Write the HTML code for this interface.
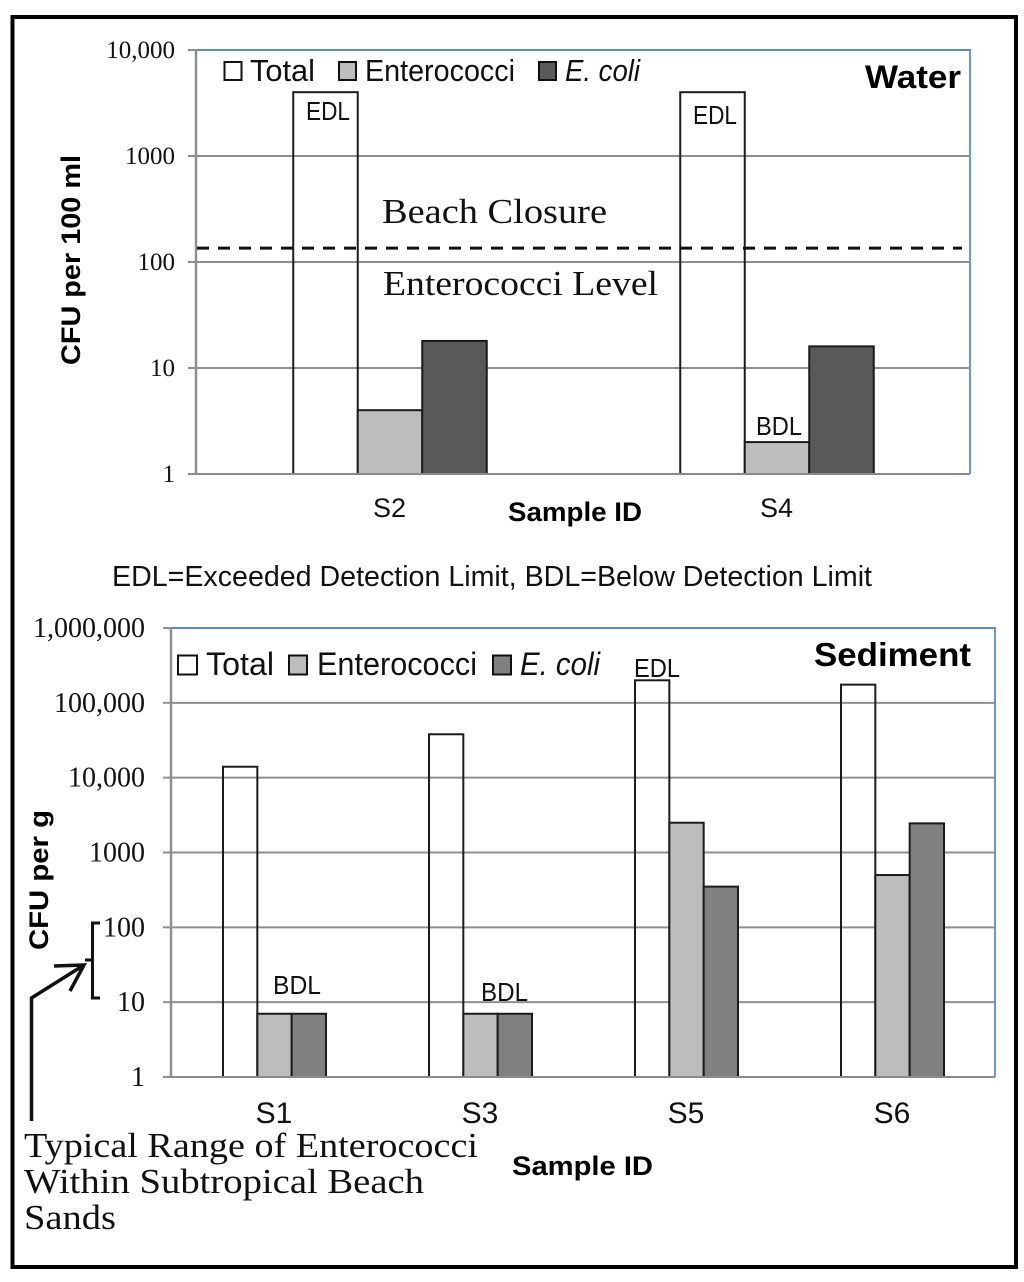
<!DOCTYPE html>
<html>
<head>
<meta charset="utf-8">
<title>CFU in water and sediment</title>
<style>
html,body{margin:0;padding:0;background:#fff;}
svg{display:block;}
.sans{font-family:"Liberation Sans",sans-serif;fill:#111;}
.serif{font-family:"Liberation Serif",serif;fill:#111;}
.bold{font-weight:bold;fill:#000;}
</style>
</head>
<body>
<svg id="figure" width="1024" height="1282" viewBox="0 0 1024 1282" xmlns="http://www.w3.org/2000/svg">
  <rect x="12.5" y="17" width="1003.5" height="1250" fill="#fff" stroke="#000" stroke-width="4"/>

  <g id="water-chart"></g>
  <g id="sediment-chart"></g>

  <!-- Water chart text -->
  <text class="sans bold" transform="translate(80,365) rotate(-90)" font-size="27" textLength="210" lengthAdjust="spacingAndGlyphs">CFU per 100 ml</text>
  <text class="sans bold" x="865" y="88" font-size="32" textLength="96" lengthAdjust="spacingAndGlyphs">Water</text>
  <text class="sans bold" x="508" y="521" font-size="27" textLength="134" lengthAdjust="spacingAndGlyphs">Sample ID</text>
  <text class="serif" x="382" y="223" font-size="35" textLength="225" lengthAdjust="spacingAndGlyphs">Beach Closure</text>
  <text class="serif" x="383" y="295" font-size="35" textLength="275" lengthAdjust="spacingAndGlyphs">Enterococci Level</text>
  <text class="sans" x="306" y="120" font-size="26" textLength="44" lengthAdjust="spacingAndGlyphs">EDL</text>
  <text class="sans" x="693" y="124" font-size="26" textLength="44" lengthAdjust="spacingAndGlyphs">EDL</text>
  <text class="sans" x="756" y="435" font-size="26" textLength="46" lengthAdjust="spacingAndGlyphs">BDL</text>

  <!-- Water legend -->
  <rect x="224.5" y="62" width="17" height="18" fill="#fff" stroke="#111" stroke-width="2"/>
  <text class="sans" x="250" y="81" font-size="31" textLength="65" lengthAdjust="spacingAndGlyphs">Total</text>
  <rect x="339" y="62" width="17" height="18" fill="#bdbdbd" stroke="#111" stroke-width="2"/>
  <text class="sans" x="365" y="81" font-size="31" textLength="150" lengthAdjust="spacingAndGlyphs">Enterococci</text>
  <rect x="539" y="62" width="17" height="18" fill="#595959" stroke="#111" stroke-width="2"/>
  <text class="sans" x="565" y="81" font-size="31" font-style="italic" textLength="75" lengthAdjust="spacingAndGlyphs">E. coli</text>

  <text class="sans" x="112" y="586" font-size="29" textLength="760" lengthAdjust="spacingAndGlyphs">EDL=Exceeded Detection Limit, BDL=Below Detection Limit</text>

  <!-- Sediment chart text -->
  <text class="sans bold" transform="translate(48,950) rotate(-90)" font-size="27" textLength="140" lengthAdjust="spacingAndGlyphs">CFU per g</text>
  <text class="sans bold" x="814" y="666" font-size="33" textLength="157" lengthAdjust="spacingAndGlyphs">Sediment</text>
  <text class="sans bold" x="512" y="1175" font-size="27" textLength="141" lengthAdjust="spacingAndGlyphs">Sample ID</text>
  <text class="sans" x="634" y="677" font-size="26" textLength="46" lengthAdjust="spacingAndGlyphs">EDL</text>
  <text class="sans" x="273" y="994" font-size="26" textLength="48" lengthAdjust="spacingAndGlyphs">BDL</text>
  <text class="sans" x="481" y="1001" font-size="26" textLength="47" lengthAdjust="spacingAndGlyphs">BDL</text>

  <!-- Sediment legend -->
  <rect x="178" y="655.5" width="19" height="19" fill="#fff" stroke="#111" stroke-width="2"/>
  <text class="sans" x="206" y="675" font-size="32" textLength="68" lengthAdjust="spacingAndGlyphs">Total</text>
  <rect x="289" y="655.5" width="18" height="19" fill="#bdbdbd" stroke="#111" stroke-width="2"/>
  <text class="sans" x="317" y="675" font-size="32" textLength="160" lengthAdjust="spacingAndGlyphs">Enterococci</text>
  <rect x="493" y="655.5" width="18" height="19" fill="#808080" stroke="#111" stroke-width="2"/>
  <text class="sans" x="520" y="675" font-size="32" font-style="italic" textLength="80" lengthAdjust="spacingAndGlyphs">E. coli</text>

  <!-- Typical range annotation -->
  <path d="M100 923 H92.5 V998 H100 M85 960 H92.5" fill="none" stroke="#111" stroke-width="3"/>
  <path d="M31.5 1121 V998 L84 965 M54 966 L84 965 L70 991" fill="none" stroke="#111" stroke-width="3.5"/>
  <text class="serif" x="24" y="1157" font-size="35" textLength="454" lengthAdjust="spacingAndGlyphs">Typical Range of Enterococci</text>
  <text class="serif" x="24" y="1193" font-size="35" textLength="400" lengthAdjust="spacingAndGlyphs">Within Subtropical Beach</text>
  <text class="serif" x="24" y="1229" font-size="35" textLength="92" lengthAdjust="spacingAndGlyphs">Sands</text>
</svg>

<script>
// Water chart data
const waterCategories = ["S2", "S4"];
const waterTotal = [4000, 4000];
const waterEnterococci = [4, 2];
const waterEcoli = [18, 16];
const waterTickValues = [1, 10, 100, 1000, 10000];
const waterTickLabels = ["1", "10", "100", "1000", "10,000"];
const beachClosureLevel = 135;

// Sediment chart data
const sedimentCategories = ["S1", "S3", "S5", "S6"];
const sedimentTotal = [14000, 38000, 200000, 175000];
const sedimentEnterococci = [7, 7, 2500, 500];
const sedimentEcoli = [7, 7, 350, 2450];
const sedimentTickValues = [1, 10, 100, 1000, 10000, 100000, 1000000];
const sedimentTickLabels = ["1", "10", "100", "1000", "10,000", "100,000", "1,000,000"];

const NS = "http://www.w3.org/2000/svg";

function make(parent, tag, props) {
  const el = document.createElementNS(NS, tag);
  for (const k in props) el.setAttribute(k, props[k]);
  parent.appendChild(el);
  return el;
}

function drawChart(cfg) {
  const root = document.getElementById(cfg.id);
  const decades = Math.log10(cfg.tickValues[cfg.tickValues.length - 1]);
  const yOf = v => cfg.bottom - (Math.log10(v) / decades) * (cfg.bottom - cfg.top);
  const step = (cfg.right - cfg.left) / cfg.categories.length;
  const barW = step / cfg.barDivisor;
  const xOf = i => cfg.left + step * (i + 0.5);

  // Gridlines, tick stubs, tick labels
  cfg.tickValues.forEach((v, i) => {
    const y = yOf(v);
    const isTop = i === cfg.tickValues.length - 1;
    const isBase = i === 0;
    if (!isTop) {
      const grid = make(root, "line", {x1: cfg.left, x2: cfg.right, y1: y, y2: y, stroke: isBase ? "#8a8a8a" : "#8f8f8f", "stroke-width": 2});
      
      
    }
    const stub = make(root, "line", {x1: cfg.left - 8, x2: cfg.left, y1: y, y2: y, stroke: "#8f8f8f", "stroke-width": 2});
    
    
    const label = make(root, "text", {x: cfg.tickX, y: y + cfg.tickDy, "text-anchor": "end", "font-size": cfg.tickSize, class: "serif"});
    
    
    label.textContent = cfg.tickLabels[i];
  });

  // Plot borders
  const borderTop = make(root, "line", {x1: cfg.left, x2: cfg.right + 1, y1: cfg.top, y2: cfg.top, stroke: "#5b88c6", "stroke-width": 2});
  
  
  const borderRight = make(root, "line", {x1: cfg.right, x2: cfg.right, y1: cfg.top, y2: cfg.bottom, stroke: "#6f97cf", "stroke-width": 2});
  
  

  // Bars
  cfg.categories.forEach((name, i) => {
    const x0 = xOf(i) - barW * 1.5 + 0.5;
    const totalTop = yOf(cfg.total[i]);
    const barTotal = make(root, "rect", {x: x0, y: totalTop, width: barW, height: cfg.bottom - totalTop, fill: "none", stroke: "#1c1c1c", "stroke-width": 2});
    
    
    const entTop = yOf(cfg.enterococci[i]);
    const barEnt = make(root, "rect", {x: x0 + barW, y: entTop, width: barW, height: cfg.bottom - entTop, fill: "#bdbdbd", stroke: "#1c1c1c", "stroke-width": 2});
    
    
    const ecoTop = yOf(cfg.ecoli[i]);
    const barEco = make(root, "rect", {x: x0 + barW * 2, y: ecoTop, width: barW, height: cfg.bottom - ecoTop, fill: cfg.ecoliFill, stroke: "#1c1c1c", "stroke-width": 2});
    
    
    const cat = make(root, "text", {x: xOf(i), y: cfg.catY, "text-anchor": "middle", "font-size": cfg.catSize, class: "sans"});
    
    
    cat.textContent = name;
  });

  // Left axis on top of bars' baseline
  const axisLeft = make(root, "line", {x1: cfg.left, x2: cfg.left, y1: cfg.top - 1, y2: cfg.bottom + 1, stroke: "#8f8f8f", "stroke-width": 2.5});
  
  
  const axisBase = make(root, "line", {x1: cfg.left, x2: cfg.right, y1: cfg.bottom, y2: cfg.bottom, stroke: "#8a8a8a", "stroke-width": 2});
  
  

  return yOf;
}

const waterY = drawChart({
  id: "water-chart", left: 196, right: 970, top: 50, bottom: 474, barDivisor: 6,
  categories: waterCategories, total: waterTotal, enterococci: waterEnterococci, ecoli: waterEcoli,
  tickValues: waterTickValues, tickLabels: waterTickLabels,
  tickX: 175, tickDy: 8, tickSize: 25, catY: 517, catSize: 27, ecoliFill: "#595959"
});

drawChart({
  id: "sediment-chart", left: 171, right: 995, top: 628, bottom: 1077, barDivisor: 6,
  categories: sedimentCategories, total: sedimentTotal, enterococci: sedimentEnterococci, ecoli: sedimentEcoli,
  tickValues: sedimentTickValues, tickLabels: sedimentTickLabels,
  tickX: 145, tickDy: 9, tickSize: 28, catY: 1123, catSize: 30, ecoliFill: "#808080"
});

// Beach closure threshold line
const beachLine = make(document.getElementById("water-chart"), "line", {
  x1: 197, x2: 962, y1: waterY(beachClosureLevel), y2: waterY(beachClosureLevel),
  stroke: "#111", "stroke-width": 3, "stroke-dasharray": "12 9"
});


</script>
</body>
</html>
